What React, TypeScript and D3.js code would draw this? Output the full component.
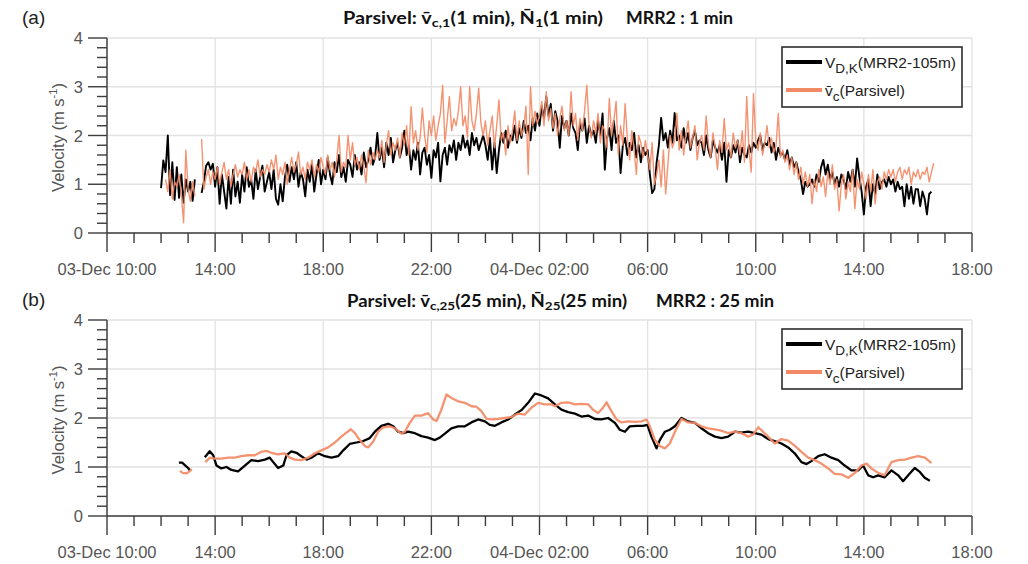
import React from 'react';
import * as d3 from 'd3';

// ---------- axis definitions ----------
const X_TICK_HOURS = [10, 14, 18, 22, 26, 30, 34, 38, 42]; // hours since 03-Dec 00:00
const X_TICK_LABELS = ['03-Dec 10:00', '14:00', '18:00', '22:00', '04-Dec 02:00', '06:00', '10:00', '14:00', '18:00'];
const Y_TICKS = [0, 1, 2, 3, 4];

// ---------- panel (a): 1-min series, sampled every 5 min from 03-Dec 12:00 ----------
const ONE_MIN_START_HOUR = 12;
const ONE_MIN_STEP_MIN = 5;

const mrr1min: (number | null)[] = [
  0.92, 1.49, 1.25, 2.0, 0.78, 1.45, 0.68, 1.35, 0.72, 1.2, 0.62, 1.1,
  0.85, 1.05, 0.66, 1.1, null, null, 0.82, 1.05, 1.38, 1.45, 1.3, 1.42,
  0.95, 1.35, 0.6, 1.2, 0.85, 0.5, 1.15, 0.6, 1.3, 0.75, 1.05, 0.62,
  1.2, 0.85, 1.35, 0.95, 1.1, 0.7, 1.3, 0.9, 1.15, 1.38, 0.85, 1.05,
  1.25, 0.9, 1.3, 0.7, 0.58, 1.0, 0.65, 1.15, 1.4, 1.05, 1.35, 1.1,
  1.45, 0.95, 1.25, 1.1, 0.75, 1.3, 1.05, 1.4, 0.85, 1.2, 1.5, 1.0,
  1.3, 1.1, 1.55, 1.2, 1.0, 1.45, 1.25, 1.6, 1.15, 1.35, 1.05, 1.5,
  1.4, 1.15, 1.6, 1.3, 1.45, 1.2, 1.65, 1.35, 1.5, 1.75, 1.4, 1.55,
  2.05, 1.5, 1.75, 1.35, 1.85, 1.6, 1.95, 1.45, 1.7, 1.85, 1.55, 1.75,
  2.1, 1.6, 1.8, 1.3, 1.7, 1.5, 1.85, 1.2, 1.65, 1.75, 1.4, 1.6,
  1.13, 1.7, 1.55, 1.85, 1.06, 1.6, 1.75, 1.4, 1.8, 1.65, 1.9, 1.5,
  1.85, 1.7, 2.0, 1.75, 1.9, 1.6, 2.05, 1.8, 1.95, 1.7, 1.85, 2.0,
  1.8, 1.5, 1.95, 1.3, 1.85, 1.23, 1.7, 2.05, 1.85, 2.1, 1.75, 2.0,
  1.9, 2.2, 1.85, 2.15, 1.95, 2.3, 2.05, 2.2, 1.9, 2.35, 2.1, 2.45,
  2.2, 2.6, 2.35, 2.8, 2.4, 2.65, 2.1, 2.5, 2.3, 1.75, 2.4, 2.15,
  2.3, 2.0, 2.45, 2.15, 2.05, 1.7, 2.25, 2.1, 2.35, 1.85, 2.2, 2.0,
  2.1, 1.85, 2.3, 2.0, 2.45, 1.3, 1.95, 2.15, 1.7, 2.3, 1.85, 2.0,
  1.23, 1.8, 1.95, 1.6, 1.85, 1.7, 2.05, 1.55, 1.8, 1.45, 1.75, 1.6,
  1.7, 1.2, 0.82, 0.9, 1.45, 1.8, 2.36, 1.9, 2.05, 1.75, 2.1, 1.85,
  2.46, 1.9, 2.0, 1.75, 2.15, 1.85, 2.05, 1.7, 1.95, 2.1, 1.8, 1.9,
  1.85, 1.6, 2.0, 1.7, 1.55, 1.9, 1.75, 1.65, 1.8, 1.5, 1.85, 1.05,
  1.7, 1.55, 1.8, 1.65, 1.9, 1.45, 1.75, 1.6, 1.55, 1.8, 1.65, 1.85,
  1.75, 1.9, 2.0, 1.7, 1.85, 1.8, 1.95, 1.65, 1.85, 1.5, 1.75, 1.6,
  1.65, 1.5, 1.7, 1.4, 1.55, 1.35, 1.45, 1.25, 1.1, 0.8, 1.05, 0.95,
  1.0, 1.1, 0.95, 1.2, 1.05, 1.35, 1.5, 1.2, 1.4, 1.1, 1.25, 1.0,
  1.15, 0.95, 1.2, 1.1, 0.9, 1.25, 1.05, 1.3, 0.95, 1.53, 1.15, 0.85,
  0.38, 0.95, 1.1, 0.55, 1.0, 0.8, 1.2, 0.9, 1.05, 1.1, 0.95, 1.15,
  1.0, 1.1, 0.85, 1.05, 0.9, 0.95, 0.55, 1.0, 0.7, 0.95, 0.6, 0.9,
  0.9, 0.55, 0.85, 0.7, 0.38, 0.8, 0.85,
];

const parsivel1min: (number | null)[] = [
  null, null, 1.1, 0.85, 1.3, 0.7, 1.05, 0.95, 1.2, 0.8, 0.21, 1.7,
  0.9, 0.65, 1.05, 0.75, null, null, 1.93, 0.9, 1.15, 1.3, 1.0, 1.25,
  1.1, 1.35, 1.0, 1.25, 1.45, 1.1, 1.3, 0.95, 1.2, 1.4, 1.15, 1.3,
  1.2, 1.45, 1.1, 1.3, 1.05, 1.35, 1.25, 1.5, 1.15, 1.3, 1.2, 1.4,
  1.25, 1.5, 1.3, 1.6, 1.1, 1.35, 1.2, 1.45, 1.0, 1.3, 1.55, 1.25,
  1.4, 1.66, 1.2, 1.35, 1.1, 1.45, 1.3, 1.5, 1.15, 1.4, 1.25, 1.55,
  1.35, 1.2, 1.6, 1.3, 1.45, 1.15, 1.5, 2.0, 1.25, 1.45, 1.35, 2.0,
  1.5, 1.85, 1.4, 1.55, 1.3, 1.6, 1.35, 1.03, 1.7, 1.4, 1.65, 1.5,
  1.7, 1.55, 1.9, 1.45, 1.8, 2.1, 1.6, 1.85, 1.7, 1.95, 1.55, 2.05,
  1.8, 2.2, 1.6, 2.59, 1.85, 2.1, 1.7, 1.95, 2.56, 2.0, 1.65, 2.3,
  2.0, 2.4, 1.9, 2.2, 2.45, 3.03, 1.85, 2.3, 2.8, 2.1, 2.35, 2.2,
  2.5, 3.0, 2.2, 2.4, 1.95, 3.0, 2.3, 2.1, 2.45, 2.97, 2.25, 2.0,
  2.3, 1.8, 2.1, 2.4, 1.75, 2.2, 2.73, 1.9, 2.05, 1.6, 2.2, 1.85,
  2.1, 2.5, 1.9, 2.3, 2.0, 2.15, 2.6, 1.2, 3.0, 2.2, 2.5, 2.25,
  2.4, 2.7, 2.2, 2.9, 2.3, 2.55, 2.15, 2.45, 2.0, 2.35, 2.6, 2.1,
  2.3, 2.0, 2.9, 2.2, 2.45, 1.9, 2.35, 2.1, 2.5, 3.03, 2.2, 1.95,
  2.3, 2.05, 2.45, 1.85, 2.2, 2.1, 1.75, 2.76, 2.0, 2.3, 2.7, 1.6,
  2.2, 1.8, 2.65, 1.95, 1.5, 2.1, 1.7, 1.2, 2.0, 1.85, 1.55, 1.9,
  1.6, 1.3, 1.85, 1.0, 1.2, 1.5, 0.95, 1.7, 0.8, 1.4, 2.0, 1.75,
  1.9, 2.45, 1.7, 2.1, 1.6, 2.0, 2.3, 1.75, 1.95, 2.2, 1.5, 1.85,
  2.0, 1.7, 2.4, 1.8, 1.55, 2.05, 1.75, 1.3, 1.9, 1.65, 2.35, 1.7,
  1.85, 1.55, 2.05, 1.75, 1.9, 1.6, 2.1, 1.45, 2.8, 1.7, 1.25, 2.86,
  1.9, 1.7, 2.05, 1.6, 1.85, 2.2, 1.75, 1.95, 1.65, 1.8, 2.45, 1.55,
  1.7, 1.45, 1.6, 1.3, 1.55, 1.2, 1.45, 1.1, 1.35, 1.0, 1.25, 0.95,
  1.2, 0.6, 1.1, 0.85, 1.3, 0.95, 1.15, 0.75, 1.25, 1.0, 1.4, 0.9,
  1.1, 0.45, 1.0, 1.2, 0.7, 1.05, 0.85, 1.3, 0.5, 1.1, 0.9, 1.25,
  1.0, 0.7, 1.2, 0.85, 1.3, 0.6, 1.05, 1.15, 0.9, 1.25, 1.1, 1.3,
  1.15, 1.3, 1.05, 1.25, 1.35, 1.1, 1.3, 1.2, 1.35, 1.0, 1.25, 1.15,
  1.3, 1.1, 1.25, 1.2, 1.35, 1.05, 1.25, 1.43,
];

// ---------- panel (b): 25-min series, [hours since 03-Dec 00:00, velocity] ----------
const mrr25min: [number, number | null][] = [
  [12.66, 1.09], [12.78, 1.09], [12.88, 1.04], [13.0, 0.98], [13.07, 0.93], [13.3, null],
  [13.62, 1.2], [13.8, 1.32], [13.93, 1.24], [14.05, 1.03], [14.23, 0.97], [14.42, 1.0],
  [14.6, 0.94], [14.85, 0.91], [15.1, 1.03], [15.34, 1.14], [15.59, 1.12], [15.84, 1.15],
  [16.02, 1.19], [16.15, 1.1], [16.33, 0.98], [16.52, 1.03], [16.64, 1.24], [16.82, 1.32],
  [17.01, 1.29], [17.19, 1.22], [17.38, 1.15], [17.56, 1.19], [17.81, 1.28], [18.06, 1.22],
  [18.3, 1.19], [18.55, 1.22], [18.74, 1.34], [18.98, 1.47], [19.23, 1.5], [19.48, 1.53],
  [19.72, 1.59], [19.91, 1.72], [20.15, 1.84], [20.4, 1.88], [20.59, 1.83], [20.77, 1.72],
  [20.96, 1.69], [21.14, 1.72], [21.39, 1.69], [21.63, 1.63], [21.88, 1.6], [22.13, 1.55],
  [22.31, 1.6], [22.5, 1.68], [22.74, 1.79], [22.99, 1.83], [23.24, 1.83], [23.48, 1.91],
  [23.73, 1.97], [23.98, 1.93], [24.16, 1.86], [24.35, 1.84], [24.59, 1.91], [24.84, 1.97],
  [25.09, 2.07], [25.33, 2.16], [25.58, 2.31], [25.83, 2.5], [26.07, 2.46], [26.32, 2.4],
  [26.57, 2.28], [26.81, 2.17], [27.06, 2.12], [27.31, 2.09], [27.55, 2.03], [27.8, 2.05],
  [28.05, 1.98], [28.29, 1.97], [28.54, 2.0], [28.79, 1.9], [28.97, 1.76], [29.16, 1.72],
  [29.34, 1.83], [29.59, 1.84], [29.83, 1.84], [29.99, 1.86], [30.14, 1.62], [30.33, 1.38],
  [30.45, 1.55], [30.64, 1.72], [30.82, 1.76], [31.01, 1.83], [31.25, 2.0], [31.5, 1.93],
  [31.75, 1.9], [31.99, 1.79], [32.24, 1.69], [32.49, 1.62], [32.73, 1.59], [32.98, 1.62],
  [33.23, 1.72], [33.47, 1.7], [33.72, 1.72], [33.96, 1.69], [34.21, 1.66], [34.46, 1.57],
  [34.7, 1.53], [34.95, 1.48], [35.2, 1.4], [35.44, 1.28], [35.69, 1.1], [35.88, 1.06],
  [36.06, 1.12], [36.31, 1.22], [36.55, 1.26], [36.8, 1.19], [37.05, 1.14], [37.29, 1.03],
  [37.54, 0.93], [37.79, 0.93], [37.97, 1.03], [38.16, 0.83], [38.34, 0.79], [38.53, 0.83],
  [38.77, 0.79], [39.02, 0.93], [39.27, 0.83], [39.45, 0.71], [39.64, 0.83], [39.88, 0.98],
  [40.07, 0.9], [40.25, 0.78], [40.44, 0.72],
];

const parsivel25min: [number, number | null][] = [
  [12.7, 0.92], [12.8, 0.88], [12.95, 0.87], [13.08, 0.92], [13.13, 0.96], [13.4, null],
  [13.64, 1.1], [13.8, 1.19], [13.99, 1.17], [14.23, 1.17], [14.48, 1.19], [14.73, 1.19],
  [14.97, 1.22], [15.22, 1.24], [15.47, 1.24], [15.71, 1.31], [15.9, 1.33], [16.08, 1.29],
  [16.33, 1.26], [16.58, 1.28], [16.76, 1.19], [16.95, 1.15], [17.19, 1.14], [17.44, 1.19],
  [17.69, 1.28], [17.93, 1.34], [18.18, 1.4], [18.43, 1.5], [18.67, 1.62], [18.86, 1.7],
  [19.02, 1.77], [19.17, 1.69], [19.35, 1.55], [19.54, 1.43], [19.66, 1.4], [19.85, 1.52],
  [20.03, 1.72], [20.22, 1.81], [20.46, 1.83], [20.65, 1.79], [20.89, 1.68], [21.02, 1.72],
  [21.2, 1.9], [21.39, 2.05], [21.63, 2.05], [21.88, 2.1], [22.07, 1.97], [22.19, 1.94],
  [22.37, 2.17], [22.56, 2.48], [22.74, 2.41], [22.99, 2.34], [23.24, 2.31], [23.48, 2.24],
  [23.67, 2.23], [23.85, 2.14], [24.04, 1.98], [24.22, 1.97], [24.47, 1.98], [24.72, 2.0],
  [24.96, 2.02], [25.21, 2.09], [25.46, 2.07], [25.7, 2.21], [25.95, 2.31], [26.2, 2.28],
  [26.44, 2.28], [26.57, 2.24], [26.81, 2.31], [27.06, 2.32], [27.31, 2.28], [27.55, 2.29],
  [27.8, 2.28], [27.98, 2.17], [28.17, 2.1], [28.35, 2.21], [28.48, 2.32], [28.66, 2.14],
  [28.85, 1.97], [29.03, 1.91], [29.28, 1.93], [29.53, 1.92], [29.77, 1.93], [29.96, 1.97],
  [30.08, 1.83], [30.27, 1.55], [30.45, 1.43], [30.64, 1.38], [30.82, 1.48], [31.01, 1.72],
  [31.25, 1.98], [31.5, 1.91], [31.75, 1.9], [31.99, 1.83], [32.24, 1.79], [32.49, 1.77],
  [32.73, 1.74], [32.98, 1.69], [33.23, 1.72], [33.47, 1.69], [33.72, 1.62], [33.9, 1.66],
  [34.09, 1.81], [34.27, 1.72], [34.46, 1.62], [34.7, 1.48], [34.95, 1.57], [35.2, 1.54],
  [35.45, 1.43], [35.69, 1.31], [35.94, 1.19], [36.18, 1.14], [36.43, 1.07], [36.68, 0.97],
  [36.92, 0.86], [37.17, 0.85], [37.42, 0.78], [37.67, 0.88], [37.91, 1.03], [38.1, 1.07],
  [38.28, 0.97], [38.53, 0.88], [38.77, 0.83], [39.02, 1.1], [39.27, 1.14], [39.52, 1.15],
  [39.76, 1.19], [40.01, 1.22], [40.26, 1.19], [40.5, 1.08],
];

// ---------- styling ----------
const BLACK = '#000000';
const ORANGE = '#F38A66';
const AXIS = '#3c3c3c';
const LABEL = '#555555';
const GRID = '#e2e2e2';
const SANS = '"Liberation Sans", Arial, sans-serif';
const TITLE_FONT = 'Lato, "Noto Sans", sans-serif';

const BASE = new Date(2000, 11, 3).getTime();
const toDate = (h: number) => new Date(BASE + h * 3600000);

const L = 107;
const R = 972;

function regular(values: (number | null)[]): [number, number | null][] {
  return values.map((v, i) => [ONE_MIN_START_HOUR + (i * ONE_MIN_STEP_MIN) / 60, v]);
}

type PanelProps = {
  top: number;
  bottom: number;
  letter: string;
  title: React.ReactNode;
  mrr: [number, number | null][];
  par: [number, number | null][];
  wBlack: number;
  wOrange: number;
};

function Panel({ top, bottom, letter, title, mrr, par, wBlack, wOrange }: PanelProps) {
  const x = d3.scaleTime().domain([toDate(10), toDate(42)]).range([L, R]);
  const y = d3.scaleLinear().domain([0, 4]).range([bottom, top]);
  const line = d3
    .line<[number, number | null]>()
    .defined((d) => d[1] != null)
    .x((d) => x(toDate(d[0])))
    .y((d) => y(d[1] as number));
  const minorX = d3.range(10, 42.001, 1);
  const minorY = d3.range(0, 4.0001, 0.2);
  const lgTop = top + 9;
  return (
    <g>
      {/* grid */}
      {X_TICK_HOURS.map((h) => (
        <line key={'gx' + h} x1={x(toDate(h))} x2={x(toDate(h))} y1={top} y2={bottom} stroke={GRID} strokeWidth={1.3} />
      ))}
      {Y_TICKS.map((v) => (
        <line key={'gy' + v} x1={L} x2={R} y1={y(v)} y2={y(v)} stroke={GRID} strokeWidth={1.3} />
      ))}
      {/* series */}
      <path d={line(mrr) || ''} fill="none" stroke={BLACK} strokeWidth={wBlack} strokeLinejoin="round" />
      <path d={line(par) || ''} fill="none" stroke={ORANGE} strokeWidth={wOrange} strokeLinejoin="round" strokeOpacity={0.92} />
      {/* axes */}
      <line x1={L} x2={R} y1={bottom} y2={bottom} stroke={AXIS} strokeWidth={1.4} />
      <line x1={L} x2={L} y1={top} y2={bottom} stroke={AXIS} strokeWidth={1.4} />
      {minorX.map((h) => {
        const major = X_TICK_HOURS.includes(h);
        return (
          <line key={'tx' + h} x1={x(toDate(h))} x2={x(toDate(h))} y1={bottom} y2={bottom + (major ? 19 : 10)} stroke={AXIS} strokeWidth={1.4} />
        );
      })}
      {minorY.map((v, i) => {
        const major = i % 5 === 0;
        return <line key={'ty' + i} x1={L - (major ? 19 : 10)} x2={L} y1={y(v)} y2={y(v)} stroke={AXIS} strokeWidth={1.4} />;
      })}
      {X_TICK_HOURS.map((h, i) => (
        <text key={'lx' + h} x={x(toDate(h))} y={bottom + 42} textAnchor="middle" fontFamily={SANS} fontSize={16.5} fill={LABEL}>
          {X_TICK_LABELS[i]}
        </text>
      ))}
      {Y_TICKS.map((v) => (
        <text key={'ly' + v} x={83} y={y(v) + 6} textAnchor="end" fontFamily={SANS} fontSize={16.5} fill={LABEL}>
          {v}
        </text>
      ))}
      {/* y label */}
      <text transform={`translate(64, ${(top + bottom) / 2 + 2}) rotate(-90)`} textAnchor="middle" fontFamily={SANS} fontSize={16.5} fill={LABEL}>
        Velocity (m s<tspan dy={-7} fontSize={11}>-1</tspan>
        <tspan dy={7}>)</tspan>
      </text>
      {/* panel letter */}
      <text x={22} y={top - 14} fontFamily={SANS} fontSize={19} fill="#222">
        {letter}
      </text>
      {/* title */}
      {title}
      {/* legend */}
      <rect x={782} y={lgTop} width={180} height={60} fill="#fff" stroke="#2b2b2b" strokeWidth={1.6} />
      <line x1={786} x2={822} y1={lgTop + 15} y2={lgTop + 15} stroke={BLACK} strokeWidth={4} />
      <line x1={786} x2={822} y1={lgTop + 43} y2={lgTop + 43} stroke={ORANGE} strokeWidth={4} />
      <text x={825} y={lgTop + 21} fontFamily={SANS} fontSize={15.5} fill="#222">
        V<tspan dy={5} fontSize={13.5}>D,K</tspan>
        <tspan dy={-5}>(MRR2-105m)</tspan>
      </text>
      <text x={825} y={lgTop + 49} fontFamily={SANS} fontSize={15.5} fill="#222">
        {'v\u0304'}
        <tspan dy={5} fontSize={13.5}>c</tspan>
        <tspan dy={-5}>(Parsivel)</tspan>
      </text>
    </g>
  );
}

function Title({ x1, len1, x2, len2, yb, sub1, sub2, win }: { x1: number; len1: number; x2: number; len2: number; yb: number; sub1: string; sub2: string; win: string }) {
  return (
    <g fontFamily={TITLE_FONT} fontWeight={700} fill="#111">
      <text x={x1} y={yb} fontSize={16.5} textLength={len1} lengthAdjust="spacingAndGlyphs">
        {'Parsivel: v\u0304'}
        <tspan dy={3} fontSize={12}>{sub1}</tspan>
        <tspan dy={-3}>{`(${win}), N\u0304`}</tspan>
        <tspan dy={3} fontSize={12}>{sub2}</tspan>
        <tspan dy={-3}>{`(${win})`}</tspan>
      </text>
      <text x={x2} y={yb} fontSize={16.5} textLength={len2} lengthAdjust="spacingAndGlyphs">
        {`MRR2 : ${win}`}
      </text>
    </g>
  );
}

export default function App() {
  const mrrA = regular(mrr1min);
  const parA = regular(parsivel1min);
  return (
    <svg width={1028} height={564} style={{ position: 'absolute', left: 0, top: 0, background: '#fff' }}>
      <rect width={1028} height={564} fill="#fff" />
      <Panel
        top={38}
        bottom={233}
        letter="(a)"
        mrr={mrrA}
        par={parA}
        wBlack={1.9}
        wOrange={1.4}
        title={<Title x1={343} len1={260} x2={626} len2={107} yb={24} sub1="c,1" sub2="1" win="1 min" />}
      />
      <Panel
        top={320}
        bottom={516}
        letter="(b)"
        mrr={mrr25min}
        par={parsivel25min}
        wBlack={2.3}
        wOrange={2.3}
        title={<Title x1={347} len1={280} x2={656} len2={118} yb={307} sub1="c,25" sub2="25" win="25 min" />}
      />
    </svg>
  );
}
